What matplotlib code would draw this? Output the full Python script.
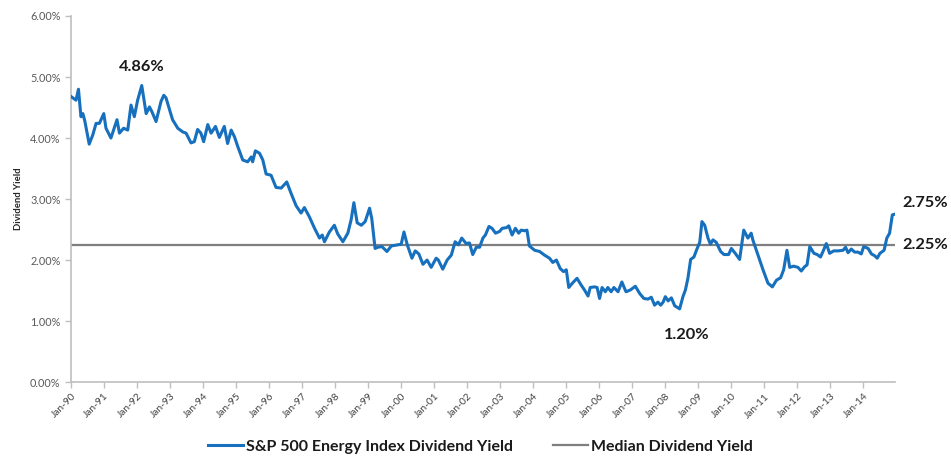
import matplotlib
matplotlib.use("Agg")
import matplotlib.pyplot as plt
from matplotlib.lines import Line2D

# month index since Jan-1990 and dividend yield (%)
months = [0, 1.8, 2.7, 3.6, 4.3, 5, 6.6, 7.9, 9.1, 10.3, 11.9, 12.7, 14.5, 16.7, 17.6, 19.1, 20.6, 21.8, 23, 24.2,
          25.7, 27.3, 28.5, 29.4, 30.9, 32.7, 33.7, 34.5, 36.9, 38.8, 40.6, 41.8, 43.6, 44.8, 46, 47.2, 48.2, 49.7,
          50.9, 52.5, 53.9, 55.7, 56.9, 58.2, 59.4, 60.6, 62.4, 64.2, 65.5, 66, 67, 68.5, 69.7, 70.9, 72.7, 74.5,
          76.4, 78.4, 80, 81.8, 83.6, 84.8, 86.6, 88.5, 90.3, 91.3, 92.1, 93.9, 95.7, 96.9, 98.8,
          100.6, 101.8, 102.8, 104, 105.5, 106.9, 108.5, 109.3, 110.5, 111.5, 113, 114.8, 116.4, 118.8, 120, 121,
          122.2, 123.9, 125.1, 126.4, 127.9, 129.4, 130.9, 132.7, 133.5, 135.1, 136.7, 138.2, 139.6, 140.8, 142,
          143.6, 144.8, 146, 147.3, 148.5,
          149.7, 150.6, 151.9, 153, 154.3, 155.8, 156.7, 158.2, 159.1, 160.3, 161.5, 162.7, 163.6, 164.8, 165.7,
          166.6, 168.5, 170.3, 172.1, 173.9, 175.1, 176.4, 177.8, 179, 180, 180.9, 182.4, 183.9, 185.4, 186.6,
          187.9, 188.7, 190.3, 191.2, 192.1, 193, 194.2, 195.1, 196.3, 197.3, 198.8, 200.2, 201.7, 203.3, 205.1,
          206.7, 208.2, 209.7, 210.9, 212.1, 213.3, 214.3, 215.2, 216, 217, 218.2, 219.4, 221.2, 222.4, 223.3,
          224.2, 225.2, 226.4, 227.3, 228.5, 229.3, 230.3, 231.5, 232.4, 233.3, 234.5, 236.1, 237.3, 239, 240,
          241.4, 243, 244.5, 246, 247.2, 247.8, 249.7, 251.5, 253.3, 254.9, 256.4, 257.9, 259, 260.2, 261.2,
          262.6, 264.2, 265.4, 266.6, 267.5, 268.5, 270, 271.2, 272.4, 273.3, 274.5, 275.7, 277.2, 278.8, 280.6,
          281.5, 282.4, 283.6, 284.8, 286, 287.2, 288.1, 289.7, 290.9, 292.1, 293, 294, 295.5, 296.5, 297.5,
          298.5, 299.3]
yield_pct = [4.68, 4.62, 4.80, 4.35, 4.40, 4.28, 3.90, 4.05, 4.24, 4.24, 4.40, 4.16, 4.00, 4.30, 4.08, 4.16, 4.13,
             4.54, 4.35, 4.62, 4.86, 4.40, 4.51, 4.43, 4.27, 4.60, 4.70, 4.66, 4.30, 4.16, 4.10, 4.08, 3.92, 3.94,
             4.14, 4.08, 3.94, 4.22,
             4.08, 4.19, 4.01, 4.19, 3.91, 4.13, 4.02, 3.86, 3.64, 3.61, 3.69, 3.61, 3.79, 3.75, 3.64, 3.41, 3.39,
             3.19, 3.18, 3.28, 3.09, 2.89, 2.77, 2.86, 2.71, 2.52, 2.36, 2.41, 2.30, 2.46, 2.57, 2.43, 2.30,
             2.44, 2.66, 2.94, 2.61, 2.57, 2.63, 2.85, 2.68, 2.19, 2.21, 2.22, 2.14, 2.23, 2.25, 2.26, 2.46,
             2.25, 2.03, 2.15, 2.10, 1.93, 2.00, 1.88, 2.03, 2.00, 1.85, 2.00, 2.08, 2.30, 2.25, 2.36,
             2.27, 2.28, 2.09, 2.21, 2.21,
             2.36, 2.41, 2.55, 2.52, 2.44, 2.47, 2.52, 2.53, 2.56, 2.41, 2.52, 2.44, 2.49, 2.48, 2.49,
             2.23, 2.16, 2.14, 2.08, 2.03, 1.96, 2.00, 1.86, 1.81, 1.84, 1.55, 1.63, 1.70, 1.59, 1.51,
             1.41, 1.55, 1.56, 1.55, 1.37, 1.55, 1.48, 1.55, 1.48, 1.55, 1.48, 1.64, 1.48, 1.51, 1.57,
             1.45, 1.37, 1.36, 1.39, 1.26, 1.31, 1.26, 1.31, 1.40, 1.33, 1.38, 1.25, 1.20, 1.40, 1.51,
             1.70, 2.01, 2.05, 2.16, 2.29, 2.63, 2.57, 2.36, 2.26, 2.33, 2.29, 2.14, 2.09, 2.09, 2.19,
             2.11, 2.01, 2.49, 2.36, 2.44, 2.33, 2.08, 1.84, 1.62, 1.56, 1.67, 1.71, 1.84, 2.16, 1.88,
             1.90, 1.88, 1.82, 1.89, 1.92, 2.22, 2.11, 2.09, 2.05, 2.14, 2.27, 2.11, 2.15, 2.15, 2.16,
             2.21, 2.12, 2.18, 2.13, 2.13, 2.10, 2.22, 2.19, 2.10, 2.07, 2.03, 2.11, 2.16, 2.36, 2.44,
             2.74, 2.75]
median_yield = 2.25
tick_labels = ["Jan-90", "Jan-91", "Jan-92", "Jan-93", "Jan-94", "Jan-95", "Jan-96", "Jan-97", "Jan-98",
               "Jan-99", "Jan-00", "Jan-01", "Jan-02", "Jan-03", "Jan-04", "Jan-05", "Jan-06", "Jan-07",
               "Jan-08", "Jan-09", "Jan-10", "Jan-11", "Jan-12", "Jan-13", "Jan-14"]
y_ticks = [0, 1, 2, 3, 4, 5, 6]
series_name = "S&P 500 Energy Index Dividend Yield"
median_name = "Median Dividend Yield"

plt.rcParams['font.family'] = ['Lato', 'DejaVu Sans']

BLUE = "#1670BE"
GREY = "#7F7F7F"
AXC = "#BFBFBF"

fig = plt.figure(figsize=(9.51, 4.57), dpi=100)
ax = fig.add_axes([0.0747, 0.164, 0.8665, 0.801])

ax.plot(months, yield_pct, color=BLUE, lw=2.2, solid_joinstyle='round', zorder=3)
ax.axhline(median_yield, color=GREY, lw=1.6, zorder=2)

ax.set_xlim(0, 299.5)
ax.set_ylim(0, 6)
ax.set_yticks(y_ticks)
ax.set_yticklabels([f"{v:.2f}%" for v in y_ticks], fontsize=7.8, color="#595959")
ax.set_xticks([12 * i for i in range(len(tick_labels))])
ax.set_xticklabels(tick_labels, rotation=45, ha='right', rotation_mode='anchor', fontsize=7.3, color="#404040")
ax.tick_params(axis='both', direction='out', length=4, color=AXC, width=1)
ax.tick_params(axis='x', pad=3)
for s in ['top', 'right']:
    ax.spines[s].set_visible(False)
for s in ['left', 'bottom']:
    ax.spines[s].set_color(AXC)
    ax.spines[s].set_linewidth(1.2)

ax.set_ylabel("Dividend Yield", fontsize=6.8, fontweight='bold', color="#262626", labelpad=5)

ann_kw = dict(fontsize=11.8, fontweight='bold', color="#1a1a1a", ha='center', va='center')
ax.annotate("4.86%", xy=(25.7, 4.86), xytext=(0, 13), textcoords='offset points', **ann_kw)
ax.annotate("1.20%", xy=(221.2, 1.20), xytext=(5, -19), textcoords='offset points', **ann_kw)
ax.annotate("2.75%", xy=(299.3, 2.75), xytext=(22, 8), textcoords='offset points', annotation_clip=False, **ann_kw)
ax.annotate("2.25%", xy=(299.3, median_yield), xytext=(22, 0), textcoords='offset points', annotation_clip=False, **ann_kw)

handles = [Line2D([], [], color=BLUE, lw=2.2), Line2D([], [], color=GREY, lw=1.6)]
leg = fig.legend(handles, [series_name, median_name], loc='center', bbox_to_anchor=(0.505, 0.022),
                 ncol=2, frameon=False, handlelength=2.2, handletextpad=0.2, columnspacing=2.5,
                 prop={'family': ['Lato', 'DejaVu Sans'], 'weight': 'bold', 'size': 11.5})
for t in leg.get_texts():
    t.set_color("#1a1a1a")

fig.savefig("out.png", dpi=100)
